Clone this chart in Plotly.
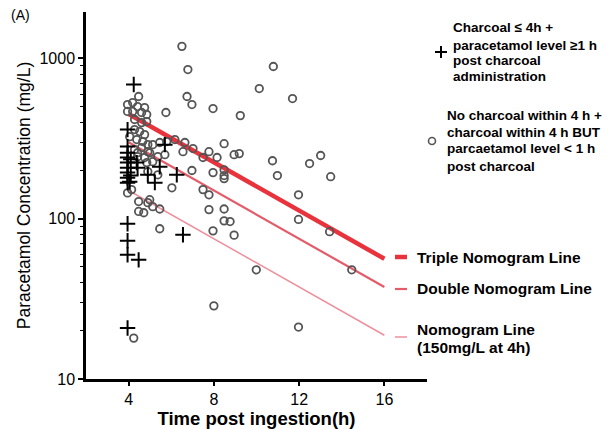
import plotly.graph_objects as go

# ---- data ----
circle_t = [6.5, 6.78, 10.79, 10.13, 11.69, 6.74, 6.97, 7.96, 9.24, 5.75, 4.47,
            8.48, 7.77, 7.02, 6.55, 7.49, 8.15, 8.95, 9.19, 10.75, 12.49, 13.01, 13.48, 10.98,
            6.97, 7.96, 8.48, 8.48, 8.48, 7.49, 7.77, 11.97, 7.77, 8.48, 8.48, 8.76, 11.97,
            7.96, 8.95, 13.43, 9.99, 14.47, 8.0, 11.97, 4.24, 5.46,
            4.47, 4.71, 5.13, 5.46, 4.47, 4.90, 3.95, 4.14, 6.03, 4.85, 5.13, 4.90, 5.37,
            4.42, 4.90, 5.37, 5.70, 4.28, 4.61, 5.13, 5.46, 5.79, 6.17, 6.64, 4.05, 4.38,
            4.66, 4.90, 4.28, 4.52, 4.75, 4.28, 4.61, 4.85, 3.95, 4.19, 4.61, 4.85, 3.95,
            4.19, 4.42, 4.75, 4.42, 4.75, 4.99, 4.99]
circle_c = [1190, 853, 891, 649, 562, 579, 516, 487, 440, 460, 579,
            294, 262, 274, 262, 241, 241, 251, 255, 230, 221, 248, 183, 186,
            200, 194, 202, 186, 178, 152, 141, 141, 114, 115, 97, 96, 99,
            84, 79, 83, 48, 48, 28.6, 21.1, 18.0, 86.6,
            111, 109, 119, 115, 128, 126, 145, 152, 156, 224, 227, 197, 188,
            258, 262, 244, 251, 270, 278, 290, 299, 303, 312, 299, 325, 312,
            303, 290, 360, 350, 335, 416, 398, 404, 467, 467, 460, 447, 516,
            531, 501, 494, 244, 241, 258, 131.5]
cross_t = [4.24, 3.95, 3.95, 3.95, 3.95, 3.95, 3.95, 3.95, 3.95, 3.95, 4.38, 4.42,
           4.90, 5.23, 5.46, 6.26, 5.70, 4.05, 3.95, 3.95, 3.95, 4.47, 6.55, 3.95,
           4.1, 4.1]
cross_c = [688, 360, 282, 258, 241, 224, 208, 194, 180, 168, 224, 208,
           188, 168, 211, 188, 290, 170, 93, 72.9, 59.6, 55.4, 79.4, 20.8,
           235, 186]

line_t = [4, 16]
triple_c = [450, 56.25]
double_c = [300, 37.5]
nomo_c = [150, 18.75]

x_ticks = [4, 8, 12, 16]
y_ticks = [10, 100, 1000]
y_ticklabels = ["10", "100", "1000"]

legend_cross_lines = ["Charcoal ≤ 4h +", "paracetamol level ≥1 h", "post charcoal", "administration"]
legend_circle_lines = ["No charcoal within 4 h +", "charcoal within 4 h BUT",
                       "parcaetamol level &lt; 1 h", "post charcoal"]
line_labels = ["Triple Nomogram Line", "Double Nomogram Line", "Nomogram Line", "(150mg/L at 4h)"]

# ---- layout helpers ----
# the page places the figure 8px in from the top-left corner, so work in window pixels
OFF = 8
WIN_W, WIN_H = 612, 429
W, H = WIN_W - OFF, WIN_H - OFF
PLOT_L, PLOT_R, PLOT_T, PLOT_B = 86, 427, 12, 379   # plot area in window pixels
L = PLOT_L - OFF
R = WIN_W - PLOT_R
T = PLOT_T - OFF
B = WIN_H - PLOT_B
def px(x):
    return (x - PLOT_L) / (PLOT_R - PLOT_L)
def py(y):
    return (PLOT_B - y) / (PLOT_B - PLOT_T)

FONT = "Liberation Sans, Arial, sans-serif"
TRIPLE_COL = "#e8323c"
DOUBLE_COL = "#e45c6a"
NOMO_COL = "#ee909c"
CIRC_COL = "#555555"

fig = go.Figure()
fig.add_trace(go.Scatter(x=line_t, y=nomo_c, mode="lines", line=dict(color=NOMO_COL, width=1.5), hoverinfo="skip"))
fig.add_trace(go.Scatter(x=line_t, y=double_c, mode="lines", line=dict(color=DOUBLE_COL, width=2.2), hoverinfo="skip"))
fig.add_trace(go.Scatter(x=line_t, y=triple_c, mode="lines", line=dict(color=TRIPLE_COL, width=4.5), hoverinfo="skip"))
fig.add_trace(go.Scatter(x=circle_t, y=circle_c, mode="markers",
                         marker=dict(symbol="circle-open", size=7.5, color=CIRC_COL, line=dict(width=1.8, color=CIRC_COL))))
fig.add_trace(go.Scatter(x=cross_t, y=cross_c, mode="markers",
                         marker=dict(symbol="cross-thin", size=11, color="black", line=dict(width=2, color="black"))))

minor_vals = [m * 10 ** d for d in (1, 2, 3) for m in range(2, 10) if m * 10 ** d < 1950]

fig.update_layout(
    width=W, height=H, margin=dict(l=L, r=R, t=T, b=B),
    paper_bgcolor="white", plot_bgcolor="white", showlegend=False,
    font=dict(family=FONT, color="black"),
    xaxis=dict(range=[2, 18], tickmode="array", tickvals=x_ticks, showgrid=False, zeroline=False,
               automargin=False,
               showline=True, linecolor="black", linewidth=2.5, ticks="outside", ticklen=4, tickwidth=2,
               tickcolor="black", tickfont=dict(size=16, family=FONT),
               title=dict(text="<b>Time post ingestion(h)</b>", font=dict(size=18.5, family=FONT), standoff=3)),
    yaxis=dict(type="log", range=[1, 3.29], tickmode="array", tickvals=y_ticks, ticktext=y_ticklabels,
               automargin=False,
               showgrid=False, zeroline=False, showline=True, linecolor="black", linewidth=2.5,
               ticks="outside", ticklen=5, tickwidth=2, tickcolor="black", tickfont=dict(size=16, family=FONT),
               minor=dict(tickmode="array", tickvals=minor_vals, ticks="outside", ticklen=3, tickwidth=1.2,
                          tickcolor="black", showgrid=False),
               title=dict(text="Paracetamol Concentration (mg/L)", font=dict(size=17.5, family=FONT), standoff=5)),
)

ann = []
ann.append(dict(text="(A)", x=px(9), y=py(15), xref="paper", yref="paper", xanchor="left", yanchor="middle",
                showarrow=False, font=dict(size=14, family=FONT)))
cross_y = [27, 45, 61, 77]
for txt, yy in zip(legend_cross_lines, cross_y):
    ann.append(dict(text="<b>" + txt + "</b>", x=px(451), y=py(yy), xref="paper", yref="paper",
                    xanchor="left", yanchor="middle", showarrow=False, font=dict(size=13.5, family=FONT)))
circ_y = [115, 132, 149, 166]
for txt, yy in zip(legend_circle_lines, circ_y):
    ann.append(dict(text="<b>" + txt + "</b>", x=px(445), y=py(yy), xref="paper", yref="paper",
                    xanchor="left", yanchor="middle", showarrow=False, font=dict(size=13.5, family=FONT)))
lab_y = [257, 288, 329, 347]
for txt, yy in zip(line_labels, lab_y):
    ann.append(dict(text="<b>" + txt + "</b>", x=px(415), y=py(yy), xref="paper", yref="paper",
                    xanchor="left", yanchor="middle", showarrow=False, font=dict(size=15.5, family=FONT)))
fig.update_layout(annotations=ann)

shapes = []
for col, wd, yy in [(TRIPLE_COL, 4.5, 257), (DOUBLE_COL, 2.2, 289), (NOMO_COL, 1.5, 337)]:
    shapes.append(dict(type="line", xref="paper", yref="paper", x0=px(395), x1=px(407), y0=py(yy), y1=py(yy),
                       line=dict(color=col, width=wd)))
# legend "+"
shapes.append(dict(type="line", xref="paper", yref="paper", x0=px(435), x1=px(447), y0=py(52), y1=py(52),
                   line=dict(color="black", width=2)))
shapes.append(dict(type="line", xref="paper", yref="paper", x0=px(441), x1=px(441), y0=py(46), y1=py(58),
                   line=dict(color="black", width=2)))
# legend circle
shapes.append(dict(type="circle", xref="paper", yref="paper", x0=px(428.5), x1=px(435.5), y0=py(144.5), y1=py(137.5),
                   line=dict(color=CIRC_COL, width=1.6)))
fig.update_layout(shapes=shapes)

fig.write_html("out.html")
